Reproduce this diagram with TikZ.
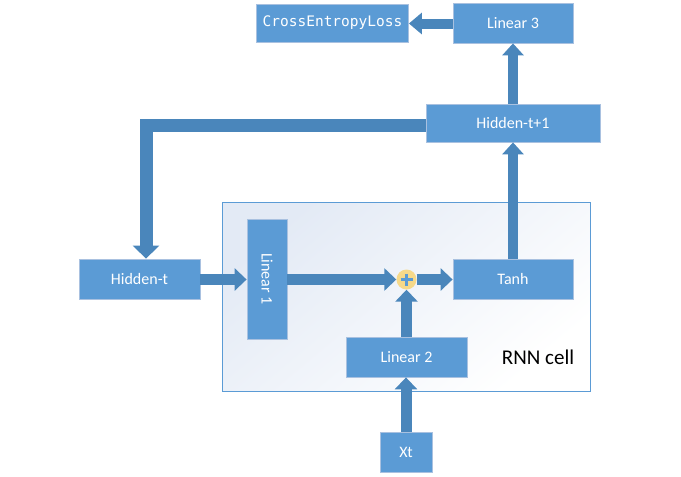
\documentclass[tikz,border=0pt]{standalone}
\usepackage{fontspec}
\setmainfont{Carlito}
\newfontfamily\monofont{DejaVu Sans Mono}
\usetikzlibrary{arrows.meta,calc}
\definecolor{boxfill}{HTML}{5B9BD5}
\definecolor{boxline}{HTML}{A9C1E0}
\definecolor{arrowc}{HTML}{4A86BB}
\definecolor{cellline}{HTML}{5B9BD5}
\definecolor{cellshade}{HTML}{E3EAF5}
\definecolor{plusglow}{HTML}{F6D98A}
\tikzset{
  blk/.style={draw=boxline, line width=0.8pt, fill=boxfill, text=white, inner sep=0pt,
    font=\fontsize{16}{18}\selectfont},
  barrow/.style={draw=arrowc, line width=11pt, line cap=butt, line join=miter,
    -{Triangle[width=22pt,length=12pt]}, arrowc},
}
\begin{document}
\begin{tikzpicture}[x=1pt,y=-1pt]
\useasboundingbox (0,0) rectangle (681,477);
\fill[white] (0,0) rectangle (681,477);
% RNN cell
\shade[shading=axis, top color=cellshade, bottom color=white, shading angle=40]
  (222,202) rectangle (590,391);
\draw[cellline, line width=0.8pt] (222,202) rectangle (590,391);
\node[font=\fontsize{21}{24}\selectfont, text=black, inner sep=0pt] (cell) at (538,357) {RNN cell};
% boxes
\node[blk, minimum width=152pt, minimum height=38pt, font=\monofont\fontsize{14.5}{17}\selectfont] (CE) at (332.5,23) {CrossEntropyLoss};
\node[blk, minimum width=120pt, minimum height=40pt] (L3) at (513,23) {Linear 3};
\node[blk, minimum width=174pt, minimum height=38pt] (H1) at (513,123) {Hidden-t+1};
\node[blk, minimum width=121pt, minimum height=40pt] (Ht) at (139.5,279) {Hidden-t};
\node[blk, minimum width=40pt, minimum height=120pt] (L1) at (267,279) {};
\node[text=white, rotate=-90, font=\fontsize{16}{18}\selectfont, inner sep=0pt] (L1t) at (L1.center) {Linear 1};
\node[blk, minimum width=120pt, minimum height=40pt] (Tanh) at (513,279) {Tanh};
\node[blk, minimum width=121pt, minimum height=40pt] (L2) at (406.5,357) {Linear 2};
\node[blk, minimum width=52pt, minimum height=40pt] (Xt) at (406,452) {Xt};
% plus
\node[circle, minimum size=20pt, inner sep=0pt, fill=plusglow] (plus) at (406.5,279.5) {};
\draw[boxfill, line width=2.8pt] ($(plus.center)+(-6,0)$) -- ($(plus.center)+(6,0)$);
\draw[boxfill, line width=2.8pt] ($(plus.center)+(0,-6)$) -- ($(plus.center)+(0,6)$);
% arrows
\coordinate (loopc) at (146,125.5);
\draw[barrow, line width=13pt, -{Triangle[width=26pt,length=13pt]}]
  (H1.west |- loopc) -| (Ht.north -| loopc);
\draw[barrow, line width=10pt, -{Triangle[width=21pt,length=13pt]}] (L3.west |- 0,23.5) -- (CE.east |- 0,23.5);
\draw[barrow, line width=10pt, -{Triangle[width=21pt,length=12pt]}] (H1.north) -- (L3.south);
\draw[barrow, line width=10pt, -{Triangle[width=21pt,length=12pt]}] (Tanh.north) -- (H1.south);
\draw[barrow] (Ht.east |- 0,279.5) -- (L1.west |- 0,279.5);
\draw[barrow] (L1.east |- 0,279.5) -- (plus.west);
\draw[barrow] (plus.east) -- (Tanh.west |- 0,279.5);
\draw[barrow] (L2.north -| plus) -- (plus.south);
\draw[barrow] (Xt.north) -- (L2.south -| Xt.north);
\end{tikzpicture}
\end{document}
